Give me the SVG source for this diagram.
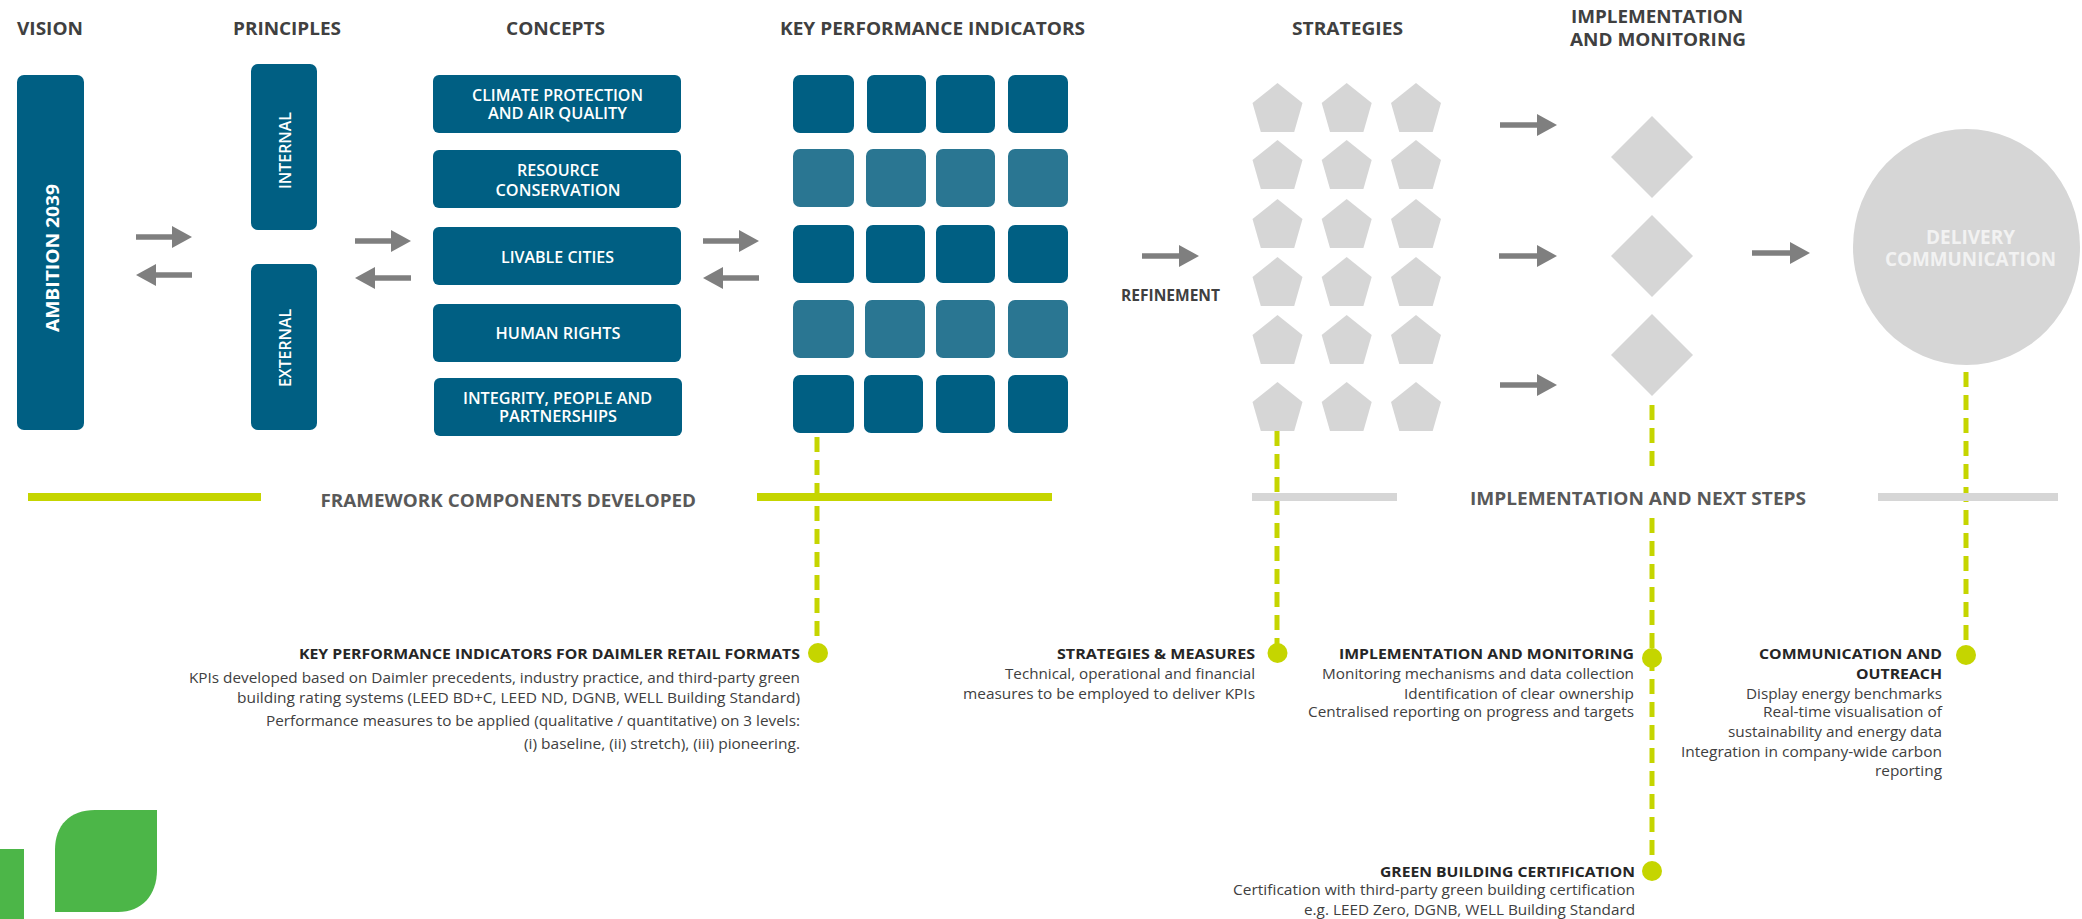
<svg xmlns="http://www.w3.org/2000/svg" width="2082" height="919" viewBox="0 0 2082 919">
<style>
text{font-family:"Open Sans","Liberation Sans",sans-serif}
.h{font-size:18px;font-weight:700;fill:#404040}
.w{font-size:16px;font-weight:600;fill:#fff}
.r{font-size:18px;font-weight:700;fill:#fff}
.t{font-size:15px;font-weight:700;fill:#262626}
.b{font-size:15px;font-weight:400;fill:#404040}
.d{fill:#005f83}.l{fill:#2a7692}.g{fill:#d6d6d6}.o{fill:#c5d500}
.a{stroke:#7f7f7f;stroke-width:5.5;fill:none}
.k{stroke:#c5d500;stroke-width:5;fill:none;stroke-dasharray:15 8}
</style>
<defs>
<marker id="ah" markerUnits="userSpaceOnUse" markerWidth="20" markerHeight="22" refX="0" refY="11" orient="auto"><path d="M0 0L20 11L0 22Z" fill="#7f7f7f"/></marker>
<polygon id="p" points="0,0 25,20 16.700,49 -16.700,49 -25,20" fill="#d6d6d6"/>
<polygon id="q" points="0,0 41,41 0,82 -41,41" fill="#d6d6d6"/>
</defs>
<g id="headers">
<text class="h" x="17" y="35" textLength="66" lengthAdjust="spacingAndGlyphs">VISION</text>
<text class="h" x="233" y="35" textLength="108" lengthAdjust="spacingAndGlyphs">PRINCIPLES</text>
<text class="h" x="506" y="35" textLength="99" lengthAdjust="spacingAndGlyphs">CONCEPTS</text>
<text class="h" x="780" y="35" textLength="305" lengthAdjust="spacingAndGlyphs">KEY PERFORMANCE INDICATORS</text>
<text class="h" x="1292" y="35" textLength="111" lengthAdjust="spacingAndGlyphs">STRATEGIES</text>
<text class="h" x="1571" y="23" textLength="172" lengthAdjust="spacingAndGlyphs">IMPLEMENTATION</text>
<text class="h" x="1570" y="46" textLength="176" lengthAdjust="spacingAndGlyphs">AND MONITORING</text>
</g>
<g id="connectors">
<line class="a" x1="136" y1="237" x2="172" y2="237" marker-end="url(#ah)"/>
<line class="a" x1="192" y1="275" x2="156" y2="275" marker-end="url(#ah)"/>
<line class="a" x1="355" y1="241" x2="391" y2="241" marker-end="url(#ah)"/>
<line class="a" x1="411" y1="278" x2="375" y2="278" marker-end="url(#ah)"/>
<line class="a" x1="703" y1="241" x2="739" y2="241" marker-end="url(#ah)"/>
<line class="a" x1="759" y1="278" x2="723" y2="278" marker-end="url(#ah)"/>
<line class="a" x1="1142" y1="256" x2="1179" y2="256" marker-end="url(#ah)"/>
<line class="a" x1="1500" y1="125" x2="1537" y2="125" marker-end="url(#ah)"/>
<line class="a" x1="1499" y1="256" x2="1537" y2="256" marker-end="url(#ah)"/>
<line class="a" x1="1500" y1="385" x2="1537" y2="385" marker-end="url(#ah)"/>
<line class="a" x1="1752" y1="253" x2="1790" y2="253" marker-end="url(#ah)"/>
<line class="k" x1="817" y1="437" x2="817" y2="650"/>
<line class="k" x1="1277" y1="431" x2="1277" y2="650"/>
<line class="k" x1="1652" y1="405" x2="1652" y2="474"/>
<line class="k" x1="1652" y1="518" x2="1652" y2="866"/>
<line class="k" x1="1966" y1="372" x2="1966" y2="650"/>
</g>
<g id="vision"><rect class="d" x="17" y="75" width="67" height="355" rx="7"/>
<text class="r" transform="translate(58.500 332) rotate(-90)" textLength="148" lengthAdjust="spacingAndGlyphs">AMBITION 2039</text></g>
<g id="internal"><rect class="d" x="251" y="64" width="66" height="166" rx="7"/>
<text class="w" transform="translate(291 189) rotate(-90)" textLength="77" lengthAdjust="spacingAndGlyphs">INTERNAL</text></g>
<g id="external"><rect class="d" x="251" y="264" width="66" height="166" rx="7"/>
<text class="w" transform="translate(291 387) rotate(-90)" textLength="78" lengthAdjust="spacingAndGlyphs">EXTERNAL</text></g>
<g id="concept-climate"><rect class="d" x="433" y="75" width="248" height="58" rx="6"/>
<text class="w" x="472" y="101" textLength="171" lengthAdjust="spacingAndGlyphs">CLIMATE PROTECTION</text>
<text class="w" x="488" y="119" textLength="139" lengthAdjust="spacingAndGlyphs">AND AIR QUALITY</text></g>
<g id="concept-resource"><rect class="d" x="433" y="150" width="248" height="58" rx="6"/>
<text class="w" x="517" y="176" textLength="82" lengthAdjust="spacingAndGlyphs">RESOURCE</text>
<text class="w" x="495.500" y="196" textLength="125" lengthAdjust="spacingAndGlyphs">CONSERVATION</text></g>
<g id="concept-livable"><rect class="d" x="433" y="227" width="248" height="58" rx="6"/>
<text class="w" x="501" y="263" textLength="113" lengthAdjust="spacingAndGlyphs">LIVABLE CITIES</text></g>
<g id="concept-human"><rect class="d" x="433" y="304" width="248" height="58" rx="6"/>
<text class="w" x="495.500" y="339" textLength="125" lengthAdjust="spacingAndGlyphs">HUMAN RIGHTS</text></g>
<g id="concept-integrity"><rect class="d" x="434" y="378" width="248" height="58" rx="6"/>
<text class="w" x="463" y="404" textLength="189" lengthAdjust="spacingAndGlyphs">INTEGRITY, PEOPLE AND</text>
<text class="w" x="499" y="422" textLength="118" lengthAdjust="spacingAndGlyphs">PARTNERSHIPS</text></g>
<g id="kpi-grid">
<g id="kpi-row1" class="d"><rect x="793" y="75" width="61" height="58" rx="7"/><rect x="867" y="75" width="59" height="58" rx="7"/><rect x="936" y="75" width="59" height="58" rx="7"/><rect x="1008" y="75" width="60" height="58" rx="7"/></g>
<g id="kpi-row2" class="l"><rect x="793" y="149" width="61" height="58" rx="7"/><rect x="866" y="149" width="60" height="58" rx="7"/><rect x="936" y="149" width="59" height="58" rx="7"/><rect x="1008" y="149" width="60" height="58" rx="7"/></g>
<g id="kpi-row3" class="d"><rect x="793" y="225" width="61" height="58" rx="7"/><rect x="866" y="225" width="59" height="58" rx="7"/><rect x="936" y="225" width="59" height="58" rx="7"/><rect x="1008" y="225" width="60" height="58" rx="7"/></g>
<g id="kpi-row4" class="l"><rect x="793" y="300" width="61" height="58" rx="7"/><rect x="865" y="300" width="60" height="58" rx="7"/><rect x="936" y="300" width="59" height="58" rx="7"/><rect x="1008" y="300" width="60" height="58" rx="7"/></g>
<g id="kpi-row5" class="d"><rect x="793" y="375" width="61" height="58" rx="7"/><rect x="864" y="375" width="59" height="58" rx="7"/><rect x="936" y="375" width="59" height="58" rx="7"/><rect x="1008" y="375" width="60" height="58" rx="7"/></g>
</g>
<g id="refinement"><text x="1121" y="301" class="h" style="font-size:16px" textLength="99" lengthAdjust="spacingAndGlyphs">REFINEMENT</text></g>
<g id="strategies">
<use href="#p" x="1277.500" y="83"/><use href="#p" x="1346.700" y="83"/><use href="#p" x="1416" y="83"/>
<use href="#p" x="1277.500" y="140"/><use href="#p" x="1346.700" y="140"/><use href="#p" x="1416" y="140"/>
<use href="#p" x="1277.500" y="199"/><use href="#p" x="1346.700" y="199"/><use href="#p" x="1416" y="199"/>
<use href="#p" x="1277.500" y="257"/><use href="#p" x="1346.700" y="257"/><use href="#p" x="1416" y="257"/>
<use href="#p" x="1277.500" y="315"/><use href="#p" x="1346.700" y="315"/><use href="#p" x="1416" y="315"/>
<use href="#p" x="1277.500" y="382"/><use href="#p" x="1346.700" y="382"/><use href="#p" x="1416" y="382"/>
</g>
<g id="implementation"><use href="#q" x="1652" y="116"/><use href="#q" x="1652" y="215"/><use href="#q" x="1652" y="314"/></g>
<g id="delivery"><ellipse class="g" cx="1966.500" cy="247" rx="113.500" ry="118"/>
<text x="1926" y="244" style="font-size:19px;font-weight:700;fill:#f2f2f2" textLength="89" lengthAdjust="spacingAndGlyphs">DELIVERY</text>
<text x="1885" y="266" style="font-size:19px;font-weight:700;fill:#f2f2f2" textLength="171" lengthAdjust="spacingAndGlyphs">COMMUNICATION</text></g>
<g id="bars">
<rect class="o" x="28" y="493" width="233" height="8"/>
<rect class="o" x="757" y="493" width="295" height="8"/>
<rect class="g" x="1252" y="493" width="145" height="8"/>
<rect class="g" x="1878" y="493" width="180" height="8"/>
<text class="h" x="320.500" y="507" style="fill:#595959" textLength="375.500" lengthAdjust="spacingAndGlyphs">FRAMEWORK COMPONENTS DEVELOPED</text>
<text class="h" x="1470" y="505" style="fill:#595959" textLength="336" lengthAdjust="spacingAndGlyphs">IMPLEMENTATION AND NEXT STEPS</text>
</g>
<g id="note-kpi"><circle class="o" cx="818" cy="653" r="10"/>
<text class="t" x="299" y="659" textLength="501" lengthAdjust="spacingAndGlyphs">KEY PERFORMANCE INDICATORS FOR DAIMLER RETAIL FORMATS</text>
<text class="b" x="189" y="683" textLength="611" lengthAdjust="spacingAndGlyphs">KPIs developed based on Daimler precedents, industry practice, and third-party green</text>
<text class="b" x="237" y="703" textLength="563" lengthAdjust="spacingAndGlyphs">building rating systems (LEED BD+C, LEED ND, DGNB, WELL Building Standard)</text>
<text class="b" x="266" y="726" textLength="534" lengthAdjust="spacingAndGlyphs">Performance measures to be applied (qualitative / quantitative) on 3 levels:</text>
<text class="b" x="524" y="749" textLength="276" lengthAdjust="spacingAndGlyphs">(i) baseline, (ii) stretch), (iii) pioneering.</text></g>
<g id="note-strategies"><circle class="o" cx="1277.500" cy="653" r="10"/>
<text class="t" x="1057" y="659" textLength="198" lengthAdjust="spacingAndGlyphs">STRATEGIES &amp; MEASURES</text>
<text class="b" x="1005" y="679" textLength="250" lengthAdjust="spacingAndGlyphs">Technical, operational and financial</text>
<text class="b" x="963" y="699" textLength="292" lengthAdjust="spacingAndGlyphs">measures to be employed to deliver KPIs</text></g>
<g id="note-implementation"><circle class="o" cx="1652" cy="658" r="10"/>
<text class="t" x="1339" y="659" textLength="295" lengthAdjust="spacingAndGlyphs">IMPLEMENTATION AND MONITORING</text>
<text class="b" x="1322" y="679" textLength="312" lengthAdjust="spacingAndGlyphs">Monitoring mechanisms and data collection</text>
<text class="b" x="1404" y="699" textLength="230" lengthAdjust="spacingAndGlyphs">Identification of clear ownership</text>
<text class="b" x="1308" y="717" textLength="326" lengthAdjust="spacingAndGlyphs">Centralised reporting on progress and targets</text></g>
<g id="note-communication"><circle class="o" cx="1966" cy="655" r="10"/>
<text class="t" x="1759" y="659" textLength="183" lengthAdjust="spacingAndGlyphs">COMMUNICATION AND</text>
<text class="t" x="1856" y="679" textLength="86" lengthAdjust="spacingAndGlyphs">OUTREACH</text>
<text class="b" x="1746" y="699" textLength="196" lengthAdjust="spacingAndGlyphs">Display energy benchmarks</text>
<text class="b" x="1763" y="717" textLength="179" lengthAdjust="spacingAndGlyphs">Real-time visualisation of</text>
<text class="b" x="1728" y="737" textLength="214" lengthAdjust="spacingAndGlyphs">sustainability and energy data</text>
<text class="b" x="1681" y="757" textLength="261" lengthAdjust="spacingAndGlyphs">Integration in company-wide carbon</text>
<text class="b" x="1875" y="776" textLength="67" lengthAdjust="spacingAndGlyphs">reporting</text></g>
<g id="note-certification"><circle class="o" cx="1652" cy="871" r="10"/>
<text class="t" x="1380" y="877" textLength="255" lengthAdjust="spacingAndGlyphs">GREEN BUILDING CERTIFICATION</text>
<text class="b" x="1233" y="895" textLength="402" lengthAdjust="spacingAndGlyphs">Certification with third-party green building certification</text>
<text class="b" x="1304" y="915" textLength="331" lengthAdjust="spacingAndGlyphs">e.g. LEED Zero, DGNB, WELL Building Standard</text></g>
<g id="logo" fill="#4cb648"><rect x="0" y="849" width="24" height="70"/>
<path d="M157 810V870C157 895 142 912 118 912H55V850C55 825 70 810 95 810Z"/></g>
</svg>
